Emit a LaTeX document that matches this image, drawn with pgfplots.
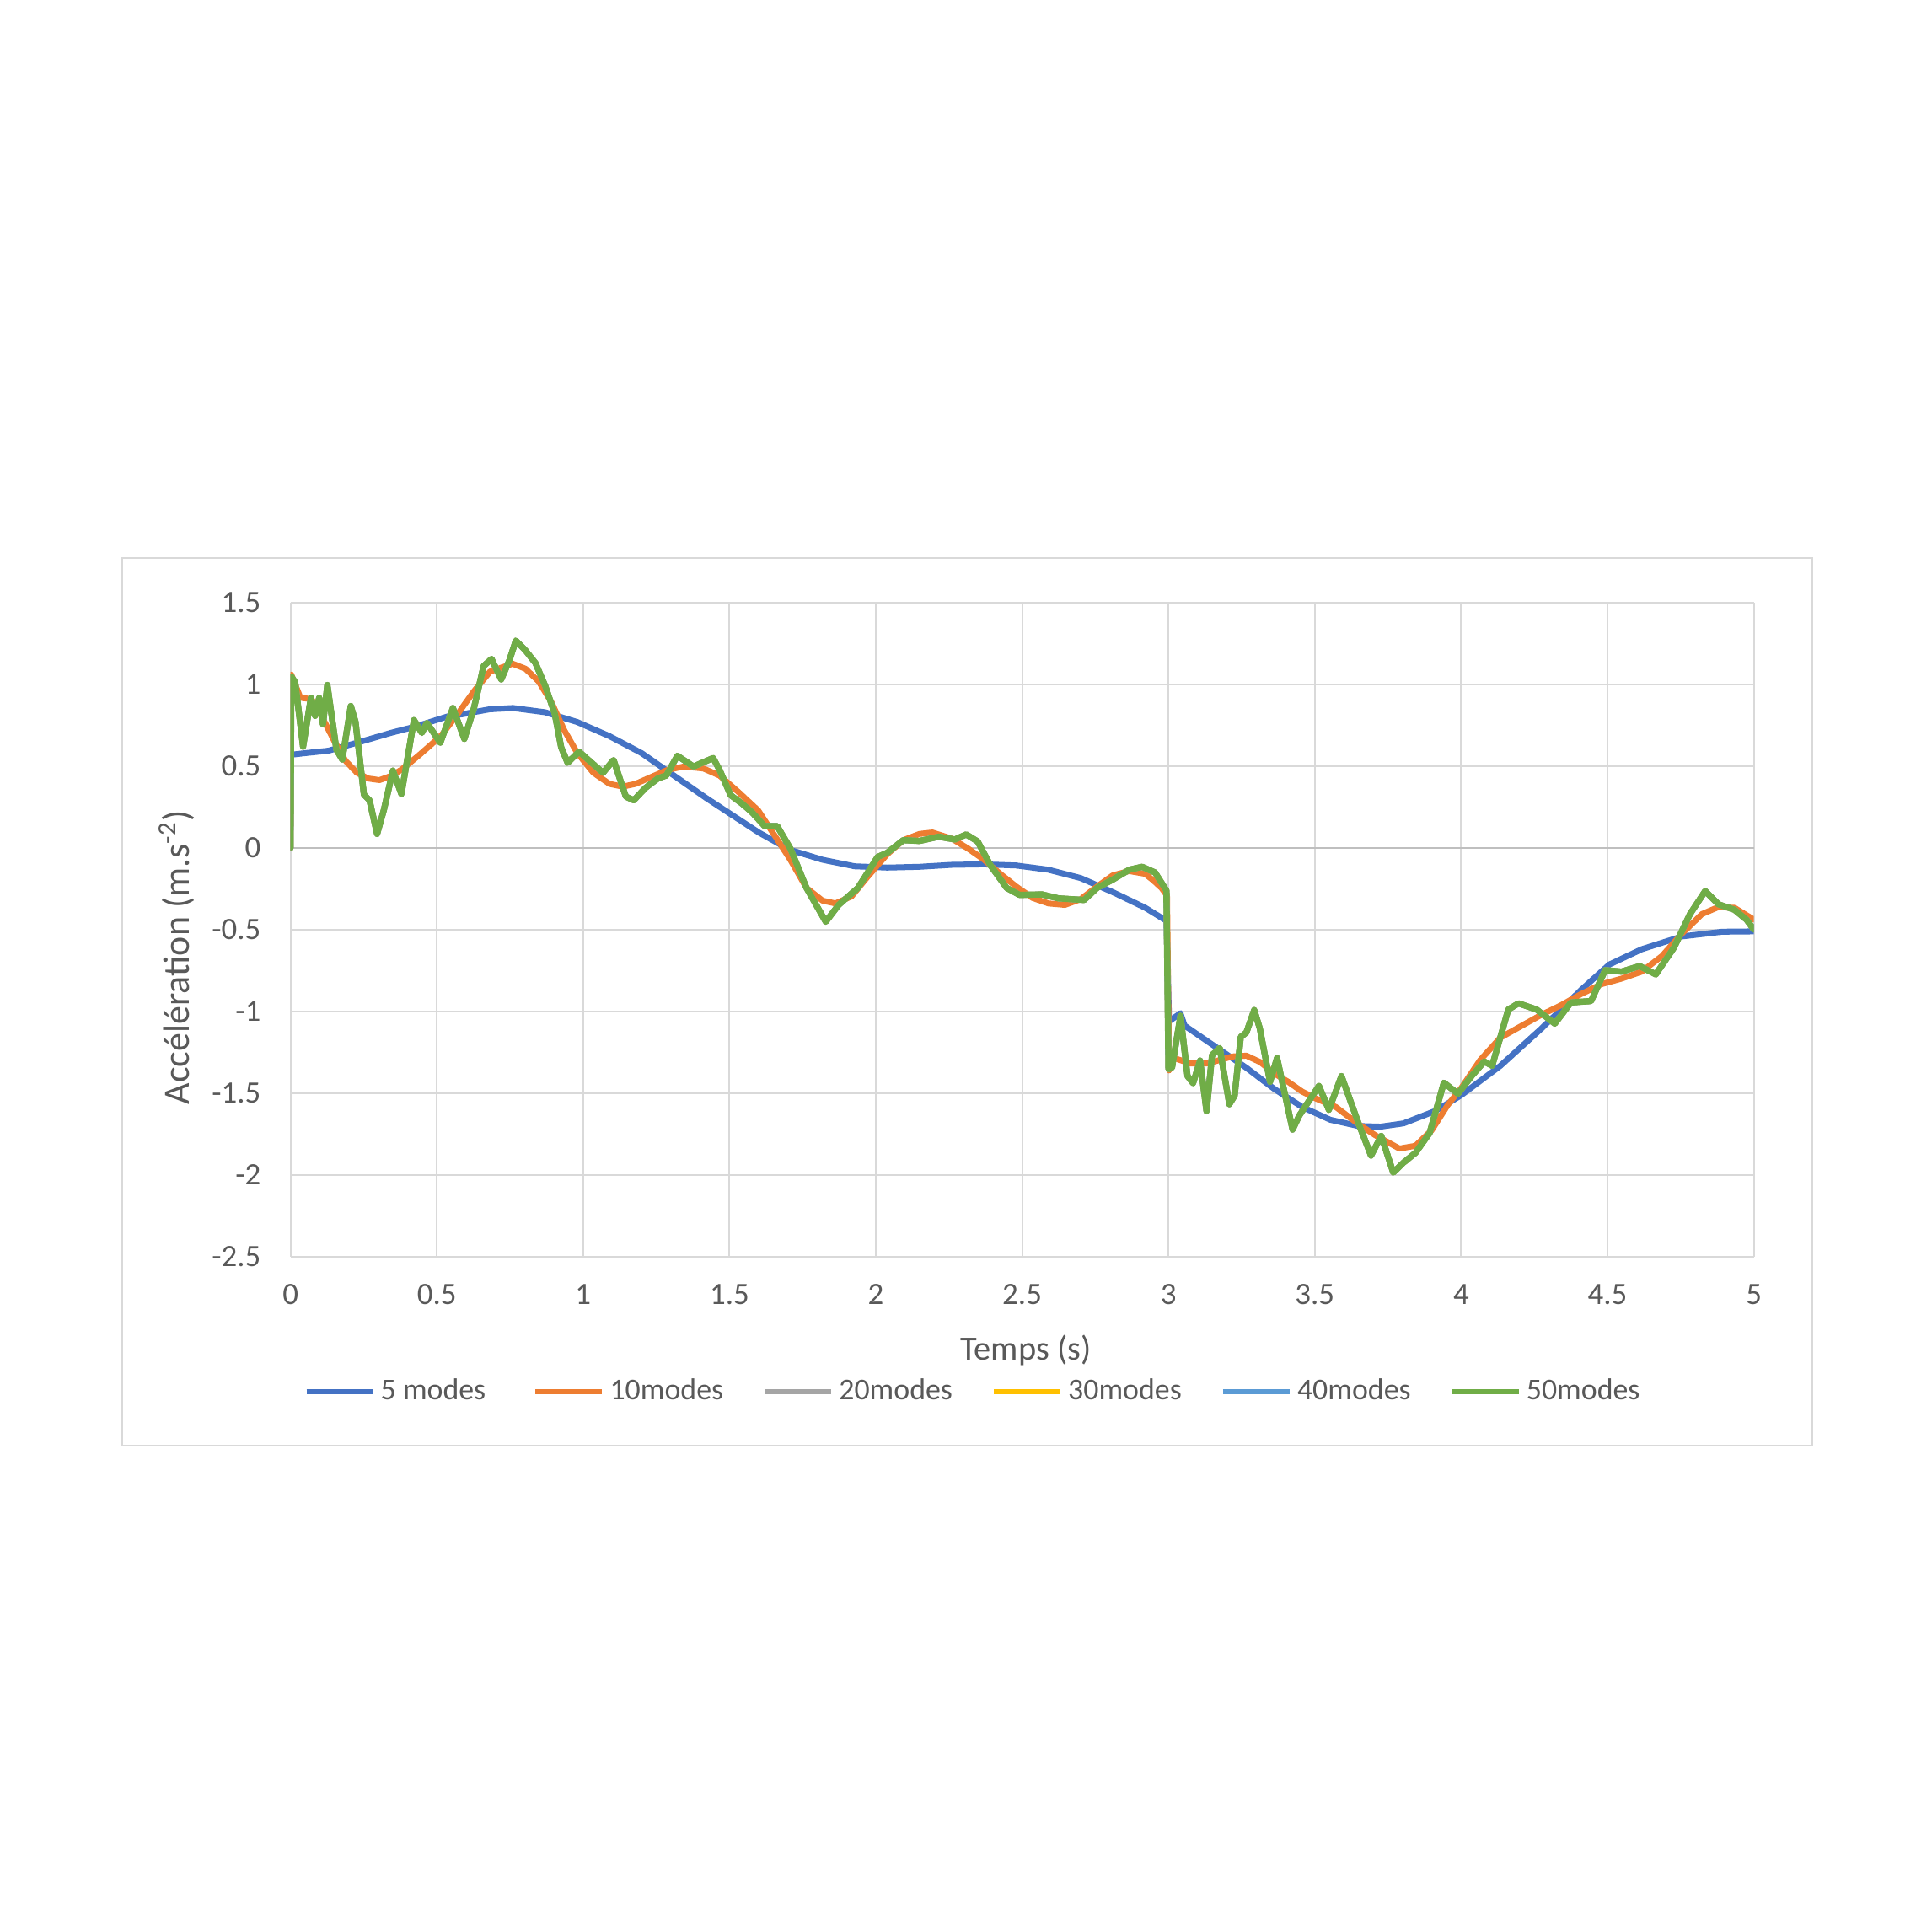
\documentclass[border=0pt]{standalone}
\usepackage{pgfplots}
\pgfplotsset{compat=1.18}
\usepackage{pgfplotstable}
\usepackage{fontspec}
\setmainfont{Carlito}
\definecolor{cA}{HTML}{4472C4}
\definecolor{cB}{HTML}{ED7D31}
\definecolor{cC}{HTML}{A5A5A5}
\definecolor{cD}{HTML}{FFC000}
\definecolor{cE}{HTML}{5B9BD5}
\definecolor{cF}{HTML}{70AD47}
\definecolor{gridC}{HTML}{D9D9D9}
\definecolor{zeroC}{HTML}{BFBFBF}
\definecolor{labC}{HTML}{595959}

\pgfplotstableread{
x y
0 0
0.002 0.57
0.05 0.58
0.13 0.595
0.246 0.653
0.343 0.704
0.43 0.744
0.536 0.804
0.594 0.82
0.68 0.848
0.76 0.856
0.87 0.83
0.98 0.77
1.09 0.684
1.2 0.58
1.31 0.443
1.42 0.306
1.53 0.177
1.6 0.095
1.675 0.02
1.708 -0.012
1.818 -0.072
1.928 -0.112
2.039 -0.12
2.149 -0.115
2.26 -0.103
2.37 -0.1
2.48 -0.107
2.59 -0.133
2.70 -0.184
2.81 -0.27
2.92 -0.365
2.993 -0.445
3.002 -1.06
3.041 -1.01
3.055 -1.086
3.16 -1.215
3.266 -1.344
3.361 -1.473
3.457 -1.584
3.553 -1.662
3.648 -1.70
3.725 -1.704
3.803 -1.684
3.913 -1.607
4.0 -1.512
4.134 -1.332
4.272 -1.108
4.41 -0.868
4.506 -0.713
4.617 -0.619
4.754 -0.541
4.892 -0.512
5.0 -0.51
}\tabA

\pgfplotstableread{
x y
0 0
0.003 1.06
0.034 0.919
0.072 0.91
0.111 0.79
0.15 0.653
0.188 0.533
0.227 0.46
0.265 0.425
0.304 0.415
0.343 0.44
0.381 0.481
0.439 0.567
0.483 0.636
0.517 0.692
0.572 0.821
0.627 0.959
0.682 1.079
0.759 1.127
0.803 1.096
0.848 1.019
0.892 0.89
0.936 0.718
0.98 0.581
1.035 0.46
1.09 0.392
1.135 0.375
1.179 0.392
1.234 0.435
1.289 0.478
1.344 0.498
1.411 0.486
1.466 0.443
1.532 0.34
1.598 0.23
1.652 0.083
1.708 -0.072
1.763 -0.244
1.818 -0.322
1.862 -0.339
1.917 -0.296
1.972 -0.176
2.039 -0.038
2.094 0.048
2.149 0.086
2.193 0.095
2.26 0.057
2.315 -0.003
2.37 -0.072
2.425 -0.158
2.48 -0.236
2.535 -0.305
2.59 -0.339
2.646 -0.348
2.70 -0.313
2.756 -0.236
2.81 -0.167
2.866 -0.141
2.92 -0.158
2.948 -0.198
2.976 -0.244
2.995 -0.29
3.002 -1.36
3.017 -1.283
3.075 -1.318
3.132 -1.318
3.218 -1.275
3.266 -1.27
3.314 -1.31
3.361 -1.378
3.409 -1.43
3.457 -1.49
3.505 -1.533
3.572 -1.584
3.648 -1.687
3.706 -1.756
3.789 -1.838
3.844 -1.821
3.899 -1.727
3.954 -1.572
4.0 -1.469
4.065 -1.297
4.134 -1.16
4.203 -1.091
4.272 -1.022
4.341 -0.962
4.41 -0.893
4.479 -0.833
4.548 -0.799
4.617 -0.756
4.686 -0.661
4.754 -0.524
4.823 -0.404
4.879 -0.361
4.934 -0.366
5.0 -0.438
}\tabB

\pgfplotstableread{
x y
0 0
0.003 1.048
0.016 1.014
0.043 0.619
0.07 0.919
0.084 0.808
0.098 0.919
0.111 0.756
0.126 0.997
0.157 0.601
0.177 0.541
0.206 0.868
0.222 0.773
0.251 0.326
0.27 0.292
0.296 0.086
0.319 0.232
0.35 0.473
0.379 0.33
0.422 0.782
0.449 0.704
0.466 0.765
0.512 0.644
0.555 0.856
0.594 0.667
0.627 0.856
0.66 1.113
0.687 1.156
0.72 1.031
0.748 1.148
0.77 1.268
0.803 1.208
0.837 1.131
0.87 0.993
0.903 0.821
0.925 0.615
0.947 0.521
0.986 0.589
1.024 0.529
1.068 0.46
1.104 0.538
1.146 0.314
1.173 0.292
1.212 0.366
1.256 0.426
1.284 0.443
1.322 0.564
1.377 0.498
1.444 0.55
1.466 0.478
1.504 0.323
1.543 0.271
1.576 0.22
1.62 0.134
1.663 0.134
1.708 -0.003
1.763 -0.244
1.829 -0.451
1.873 -0.348
1.939 -0.244
2.006 -0.055
2.039 -0.029
2.094 0.048
2.149 0.043
2.215 0.069
2.27 0.052
2.309 0.083
2.348 0.04
2.392 -0.107
2.447 -0.244
2.491 -0.287
2.568 -0.284
2.624 -0.308
2.712 -0.318
2.756 -0.244
2.81 -0.193
2.866 -0.133
2.91 -0.115
2.954 -0.15
2.993 -0.26
3.0 -1.352
3.012 -1.344
3.041 -1.026
3.065 -1.395
3.084 -1.438
3.108 -1.30
3.13 -1.61
3.149 -1.266
3.175 -1.223
3.208 -1.567
3.226 -1.515
3.247 -1.155
3.266 -1.129
3.293 -0.991
3.312 -1.103
3.347 -1.43
3.371 -1.284
3.424 -1.722
3.447 -1.636
3.514 -1.455
3.548 -1.601
3.591 -1.395
3.651 -1.692
3.692 -1.881
3.727 -1.761
3.768 -1.985
3.803 -1.924
3.844 -1.864
3.892 -1.744
3.941 -1.435
3.989 -1.503
4.037 -1.392
4.079 -1.306
4.106 -1.332
4.161 -0.988
4.196 -0.95
4.258 -0.988
4.32 -1.074
4.375 -0.945
4.444 -0.936
4.492 -0.747
4.548 -0.756
4.61 -0.722
4.665 -0.773
4.727 -0.61
4.782 -0.404
4.834 -0.263
4.879 -0.344
4.934 -0.378
4.975 -0.438
5.0 -0.498
}\tabF

\begin{document}
\begin{tikzpicture}
\fill[white] (0,0) rectangle (229.2mm,229.2mm);
\draw[gridC, line width=0.6pt] (14.5mm,57.7mm) rectangle (215mm,163mm);
\begin{axis}[
  at={(34.46mm,80.1mm)}, anchor=south west,
  scale only axis, width=173.6mm, height=77.6mm,
  xmin=0, xmax=5, ymin=-2.5, ymax=1.5,
  xtick={0,0.5,1,1.5,2,2.5,3,3.5,4,4.5,5},
  xticklabels={0,0.5,1,1.5,2,2.5,3,3.5,4,4.5,5},
  ytick={-2.5,-2,-1.5,-1,-0.5,0,0.5,1,1.5},
  yticklabels={-2.5,-2,-1.5,-1,-0.5,0,0.5,1,1.5},
  axis line style={draw=none},
  major tick length=0pt,
  tick style={draw=none},
  grid=major,
  major grid style={gridC, line width=0.6pt},
  extra y ticks={0},
  extra y tick labels={},
  extra y tick style={grid=major, major grid style={zeroC, line width=0.8pt}},
  yticklabel style={anchor=east, inner sep=0pt, xshift=-3.46mm, font=\fontsize{10.5}{12}\selectfont, text=labC},
  xticklabel style={anchor=north, inner sep=0pt, yshift=-3.2mm, font=\fontsize{10.5}{12}\selectfont, text=labC},
  xlabel={Temps (s)},
  xlabel style={at={(axis description cs:0.5025,-0.1424)}, anchor=center, font=\fontsize{11.5}{13}\selectfont, text=labC},
  ylabel={Accélération (m.s\textsuperscript{-2})},
  ylabel style={at={(axis description cs:-0.0777,0.458)}, anchor=center, rotate=0, font=\fontsize{12.5}{14}\selectfont, text=labC},
  legend columns=6,
  legend cell align=left,
  legend image code/.code={\draw[#1, line width=1.8pt, line cap=butt] (0mm,0mm) -- (7.9mm,0mm);},
  legend style={draw=none, fill=none, inner sep=0pt,
    at={(axis description cs:0.4672,-0.2062)}, anchor=center,
    font=\fontsize{10.2}{12}\selectfont, text=labC,
    nodes={inner sep=0pt},
    /tikz/every odd column/.append style={column sep=0.6mm},
    /tikz/every even column/.append style={column sep=4.05mm}},
  every axis plot/.append style={line width=2.0pt, line join=round, line cap=round},
]
\addplot[cA] table[x=x,y=y] {\tabA};
\addlegendentry{\makebox[14mm][l]{5 modes}}
\addplot[cB] table[x=x,y=y] {\tabB};
\addlegendentry{\makebox[14mm][l]{10modes}}
\addplot[cC] table[x=x,y=y] {\tabF};
\addlegendentry{\makebox[14mm][l]{20modes}}
\addplot[cD] table[x=x,y=y] {\tabF};
\addlegendentry{\makebox[14mm][l]{30modes}}
\addplot[cE] table[x=x,y=y] {\tabF};
\addlegendentry{\makebox[14mm][l]{40modes}}
\addplot[cF, line width=2.1pt] table[x=x,y=y] {\tabF};
\addlegendentry{\makebox[14mm][l]{50modes}}
\end{axis}
\end{tikzpicture}
\end{document}
